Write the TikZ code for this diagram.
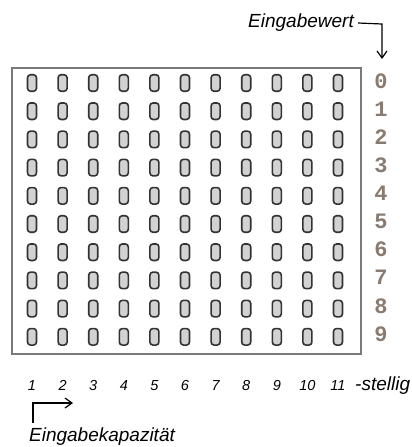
\documentclass[tikz,border=0pt]{standalone}
\usepackage{fontspec}
\setmainfont{Liberation Sans}
\newfontfamily\ziffernfont{Liberation Mono}
\usetikzlibrary{arrows.meta}

\definecolor{tastengrau}{HTML}{D2D2D2}
\definecolor{rahmengrau}{HTML}{7A7A7A}
\definecolor{ziffernbraun}{HTML}{8A7B70}

\tikzset{
    taste/.style={draw=black!80, fill=tastengrau, line width=1.6pt, rounded corners=3pt,
        minimum width=9pt, minimum height=16.5pt, inner sep=0pt},
    ziffer/.style={font=\ziffernfont\bfseries\fontsize{22}{22}\selectfont, text=ziffernbraun, inner sep=0pt},
    stelle/.style={font=\itshape\fontsize{14.5}{15}\selectfont, inner sep=0pt, anchor=base},
    beschriftung/.style={font=\itshape\fontsize{19}{20}\selectfont, inner sep=0pt},
    pfeil/.style={line width=1.2pt, -{Straight Barb[length=7pt, width=10pt]}}
}

\begin{document}
\begin{tikzpicture}[x=1pt, y=-1pt]
    \useasboundingbox (0,0) rectangle (412,447);

    % Gehaeuse
    \draw[rahmengrau, line width=1.1pt] (12,68) rectangle (361,354);

    % Tasten: 11 Spalten, 10 Zeilen
    \foreach \c in {1,...,11} {
        \foreach \r in {0,...,9} {
            \node[taste] (t\c-\r) at ({32+30.6*(\c-1)}, {83+28.2*\r}) {};
        }
    }

    % Eingabewerte rechts
    \foreach \r in {0,...,9} {
        \node[ziffer] (z\r) at (381, {81+28.1*\r}) {\r};
    }

    % Stellen unten
    \foreach \c in {1,...,11} {
        \node[stelle] (s\c) at ({32+30.6*(\c-1)}, 390) {\c};
    }
    \node[beschriftung, anchor=base west] (stellig) at (355,390) {-stellig};

    % Eingabewert oben rechts
    \node[beschriftung] (ew) at (301,23) {Eingabewert};
    \coordinate (ewknick) at (382,24);
    \coordinate (ewziel) at (382,59);
    \draw[pfeil] ([xshift=4pt]ew.east) -- (ewknick) -- (ewziel);

    % Eingabekapazitaet unten links
    \node[beschriftung] (ek) at (102,437) {Eingabekapazität};
    \coordinate (ekfuss) at (33,423);
    \coordinate (ekknick) at (33,403);
    \coordinate (ekziel) at (73,403);
    \draw[pfeil] (ekfuss) -- (ekknick) -- (ekziel);

\end{tikzpicture}
\end{document}
